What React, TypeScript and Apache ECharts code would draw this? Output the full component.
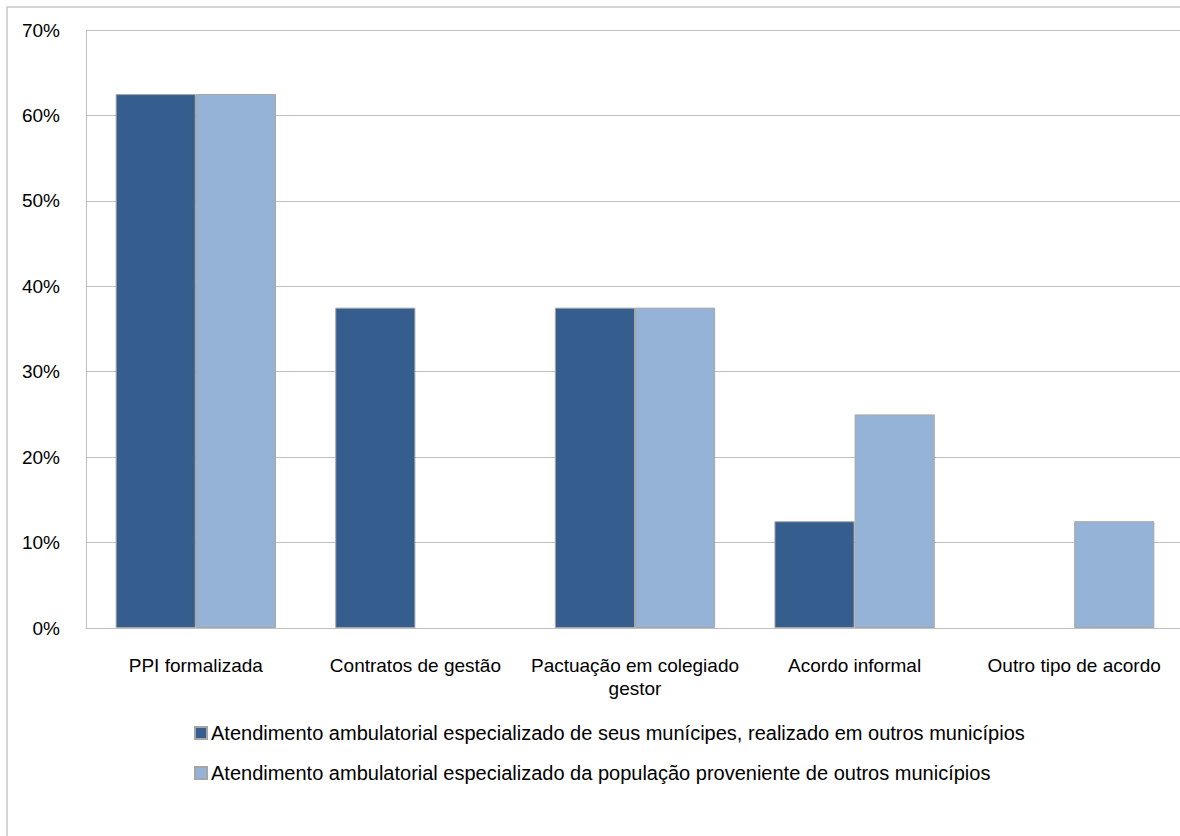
import React, { useEffect, useRef } from "react";
import * as echarts from "echarts";

const categories = [
  "PPI formalizada",
  "Contratos de gestão",
  "Pactuação em colegiado\ngestor",
  "Acordo informal",
  "Outro tipo de acordo",
];
const seriesNames = [
  "Atendimento ambulatorial especializado de seus munícipes, realizado em outros municípios",
  "Atendimento ambulatorial especializado da população proveniente de outros municípios",
];
const ownResidents = [62.5, 37.5, 37.5, 12.5, 0];
const fromOtherMunicipalities = [62.5, 0, 37.5, 25, 12.5];

const FONT = "'Liberation Sans Narrow', 'Arial Narrow', 'Liberation Sans', sans-serif";
const GRID_GRAY = "#bfbfbf";
const BAR_BORDER = "#a6a6a6";

// zero-height bars would otherwise leave a stray border line on the axis
const toBarData = (values: number[]) =>
  values.map((v) => (v === 0 ? { value: 0, itemStyle: { borderWidth: 0 } } : v));

export default function App() {
  const ref = useRef<HTMLDivElement>(null);

  useEffect(() => {
    if (!ref.current) return;
    const chart = echarts.init(ref.current, undefined, { renderer: "svg" });
    chart.setOption({
      animation: false,
      backgroundColor: "#ffffff",
      textStyle: { fontFamily: FONT },
      graphic: [
        {
          type: "rect",
          shape: { x: 7, y: 7, width: 1300, height: 900 },
          style: { fill: "none", stroke: "#c8c8c8", lineWidth: 1.5 },
          silent: true,
        },
      ],
      grid: { left: 86, top: 30, width: 1098, height: 598, containLabel: false },
      xAxis: {
        type: "category",
        data: categories,
        axisLine: { show: true, lineStyle: { color: GRID_GRAY, width: 1 } },
        axisTick: { show: false },
        axisLabel: {
          color: "#000",
          fontSize: 19,
          fontFamily: FONT,
          margin: 26,
          lineHeight: 23,
          interval: 0,
        },
      },
      yAxis: {
        type: "value",
        min: 0,
        max: 70,
        interval: 10,
        axisLine: { show: true, lineStyle: { color: GRID_GRAY, width: 1 } },
        axisTick: { show: false },
        splitLine: { show: true, lineStyle: { color: GRID_GRAY, width: 1 } },
        axisLabel: {
          color: "#000",
          fontSize: 19,
          fontFamily: FONT,
          margin: 26,
          formatter: (v: number) => `${v}%`,
        },
      },
      legend: {
        orient: "vertical",
        left: 189,
        top: 718,
        itemGap: 20,
        itemWidth: 12,
        itemHeight: 12,
        icon: "rect",
        textStyle: { color: "#000", fontSize: 20, fontFamily: FONT, padding: [0, 0, 0, -1] },
        data: seriesNames,
      },
      series: [
        {
          name: seriesNames[0],
          type: "bar",
          data: toBarData(ownResidents),
          barGap: "0%",
          barCategoryGap: "27%",
          itemStyle: { color: "#355e8f", borderColor: BAR_BORDER, borderWidth: 1 },
        },
        {
          name: seriesNames[1],
          type: "bar",
          data: toBarData(fromOtherMunicipalities),
          barGap: "0%",
          barCategoryGap: "27%",
          itemStyle: { color: "#95b3d7", borderColor: BAR_BORDER, borderWidth: 1 },
        },
      ],
    });
    return () => chart.dispose();
  }, []);

  return (
    <div
      style={{
        position: "fixed",
        left: 0,
        top: 0,
        width: 1180,
        height: 836,
        overflow: "hidden",
        background: "#fff",
      }}
    >
      <div ref={ref} style={{ width: 1200, height: 836 }} />
    </div>
  );
}
